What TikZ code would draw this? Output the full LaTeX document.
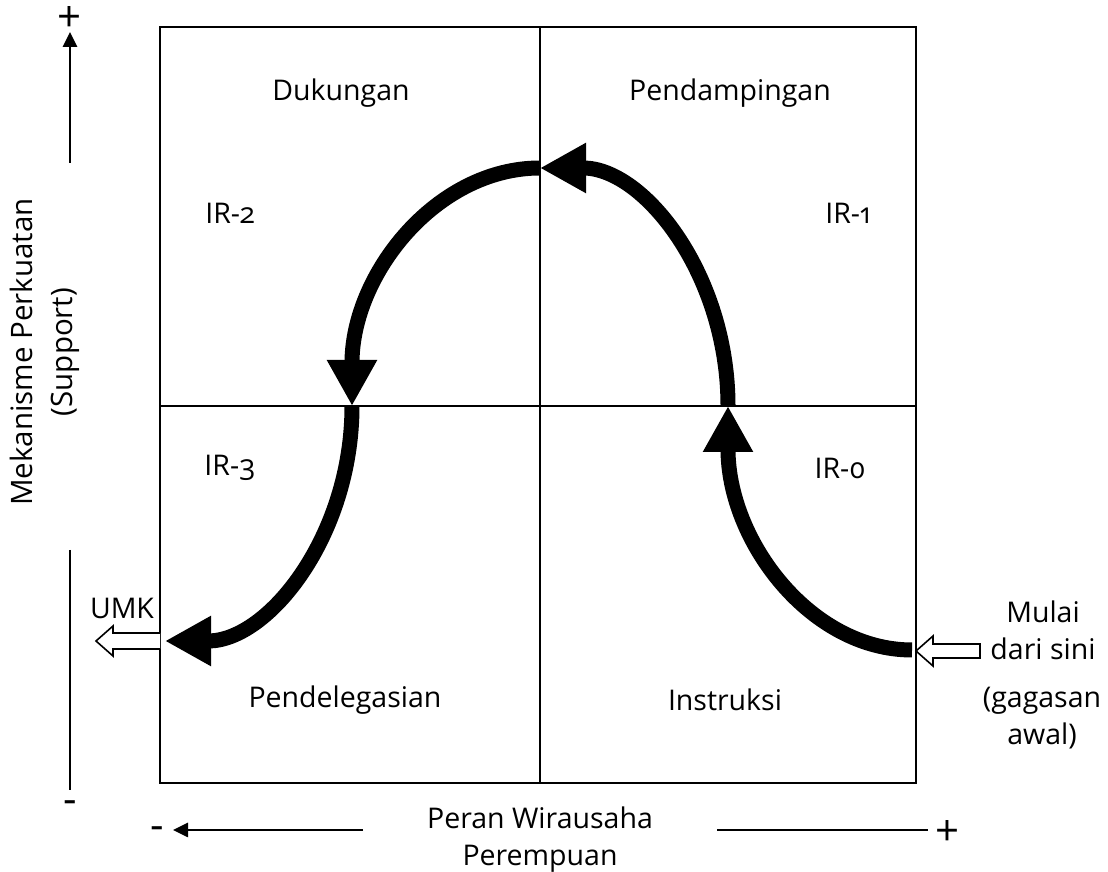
\documentclass[tikz,border=0pt]{standalone}
\usepackage{fontspec}
\setmainfont{Open Sans}[Numbers=OldStyle]
\usetikzlibrary{arrows.meta}

\begin{document}
\begin{tikzpicture}
  [x=1pt, y=1pt,
   every node/.style={font=\fontsize{28.5}{37}\selectfont, inner sep=0pt},
   sign/.style={font=\fontsize{42}{42}\selectfont},
   quad/.style={line width=1.8pt},
   bigarrow/.style={line width=15pt, -{Triangle[length=46pt, width=47pt]}},
   hollow/.style={draw, line width=1.6pt, fill=white, line join=miter},
   axis/.style={line width=2.6pt}]

  \useasboundingbox (0,0) rectangle (1108,872);

  % matrix of quadrants
  \draw[quad] (160,89) rectangle (916,845);
  \draw[line width=1.4pt] (540,89) -- (540,845);
  \draw[line width=1.4pt] (160,466) -- (916,466);

  \node (dukungan) at (341,779) {Dukungan};
  \node (pendamp)  at (730,779) {Pendampingan};
  \node (ir2) at (230,659) {IR-2};
  \node (ir1) at (848,659) {IR-1};
  \node (ir3) at (230,404) {IR-3};
  \node (ir0) at (840,404) {IR-0};
  \node (deleg)  at (345,172) {Pendelegasian};
  \node (instr)  at (725,172) {Instruksi};

  % path of the cycle
  \coordinate (s0) at (912,222);
  \coordinate (s1) at (728,466);
  \coordinate (s2) at (540,704);
  \coordinate (s3) at (352,466);
  \coordinate (s4) at (165,231);

  \draw[bigarrow] (s0) arc[start angle=270, end angle=180, x radius=184, y radius=244];
  \draw[bigarrow] (s1) arc[start angle=0, end angle=90, x radius=188, y radius=238];
  \draw[bigarrow] (s2) arc[start angle=90, end angle=180, x radius=188, y radius=238];
  \draw[bigarrow] (s3) arc[start angle=0, end angle=-90, x radius=187, y radius=235];

  % entry and exit
  \coordinate (entry) at (916,221);
  \coordinate (exit) at (160,231);
  \draw[hollow] (entry) -- ++(17,15) -- ++(0,-8) -- ++(47,0) -- ++(0,-14)
    -- ++(-47,0) -- ++(0,-8) -- cycle;
  \draw[hollow] (exit) ++(0,8) -- ++(-47,0) -- ++(0,7) -- ++(-17,-15)
    -- ++(17,-15) -- ++(0,7) -- ++(47,0);

  \node (umk) at (122,264) {UMK};
  \node[align=center] (mulai) at (1043,242) {Mulai\\dari sini};
  \node[align=center] (gagasan) at (1042,154) {(gagasan\\awal)};

  % vertical axis
  \coordinate (vtop) at (70,840);
  \coordinate (vmid) at (70,709);
  \coordinate (vlow) at (70,322);
  \coordinate (vbot) at (70,82);
  \draw[axis, -{Triangle[length=15pt, width=14pt]}] (vmid) -- (vtop);
  \draw[axis] (vlow) -- (vbot);
  \node[sign] (vplus) at (70,853) {+};
  \node[sign] (vminus) at (70,65) {-};
  \node[rotate=90, align=center, font=\fontsize{29.5}{40}\selectfont] (support) at (45,520)
    {Mekanisme Perkuatan\\(Support)};

  % horizontal axis
  \coordinate (hleft) at (173,42);
  \coordinate (hin) at (363,42);
  \coordinate (hout) at (717,42);
  \coordinate (hright) at (928,42);
  \draw[axis, -{Triangle[length=15pt, width=14pt]}] (hin) -- (hleft);
  \draw[axis] (hout) -- (hright);
  \node[sign] (hminus) at (157,39) {-};
  \node[sign] (hplus) at (947,39) {+};
  \node[align=center] (peran) at (540,32) {Peran Wirausaha\\Perempuan};
\end{tikzpicture}
\end{document}
